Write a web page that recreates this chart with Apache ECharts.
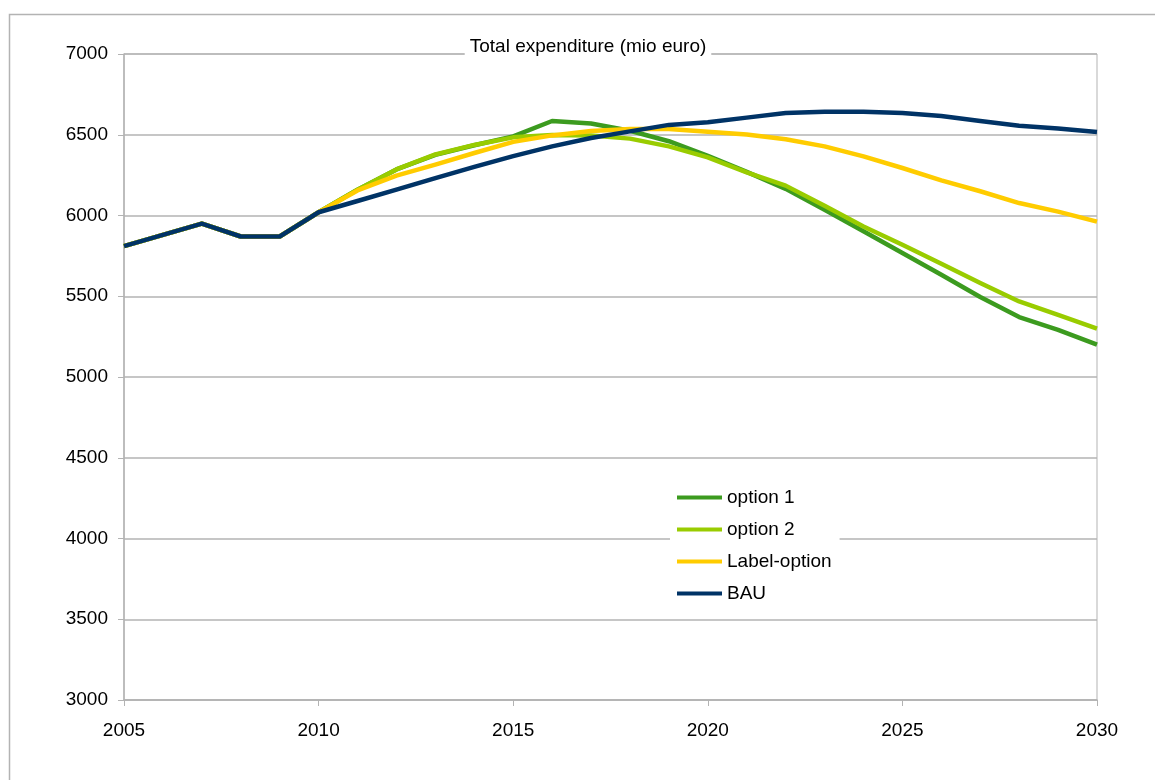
<!DOCTYPE html>
<html>
<head>
<meta charset="utf-8">
<script src="https://cdn.jsdelivr.net/npm/echarts@6/dist/echarts.min.js"></script>
<style>
html,body{margin:0;padding:0;background:#fff;}
#chart{width:1155px;height:780px;}
</style>
</head>
<body>
<div id="chart"></div>
<script>
var years = [2005,2006,2007,2008,2009,2010,2011,2012,2013,2014,2015,2016,2017,2018,2019,2020,2021,2022,2023,2024,2025,2026,2027,2028,2029,2030];
var option1 = [5810,5880,5950,5870,5870,6020,6160,6285,6375,6435,6490,6585,6570,6525,6460,6370,6270,6165,6036,5902,5768,5633,5495,5371,5292,5200];
var option2 = [5810,5880,5950,5870,5870,6020,6160,6285,6378,6437,6484,6499,6496,6476,6428,6360,6267,6185,6060,5932,5819,5701,5582,5468,5385,5299];
var labelOption = [5810,5880,5950,5870,5870,6020,6155,6247,6315,6387,6456,6496,6523,6536,6536,6519,6501,6472,6428,6366,6294,6218,6150,6077,6024,5962];
var bau = [5810,5880,5950,5870,5870,6020,6090,6160,6232,6301,6368,6428,6480,6521,6561,6577,6606,6635,6643,6642,6635,6616,6585,6556,6538,6517];
var seriesNames = ['option 1','option 2','Label-option','BAU'];
var seriesColors = ['#3c9b1f','#99cc00','#ffcc00','#003366'];
var yTicks = {min:3000, max:7000, interval:500};
var xTicks = {min:2005, max:2030, interval:5};
var titleText = 'Total expenditure (mio euro)';

function pairs(vals){ return years.map(function(y,i){ return [y, vals[i]]; }); }
var allData = [option1, option2, labelOption, bau];
var FONT = 'Liberation Sans, Arial, sans-serif';

var chart = echarts.init(document.getElementById('chart'));
chart.setOption({
  animation:false,
  backgroundColor:'#ffffff',
  graphic:[
    {type:'rect', z:-10, shape:{x:9.5,y:14.5,width:1300,height:900}, style:{fill:'none',stroke:'#b3b3b3',lineWidth:1.5}},
    {type:'text', z:10, x:588, y:47, style:{text:titleText, fill:'#000', font:'19px '+FONT, align:'center', verticalAlign:'middle', backgroundColor:'#fff', padding:[4,5,4,5]}}
  ],
  grid:{left:124,right:58,top:54,bottom:80,show:true,borderColor:'#b3b3b3',borderWidth:1},
  legend:{
    orient:'vertical', left:670, top:480,
    data:seriesNames,
    icon:'rect', itemWidth:45, itemHeight:4, itemGap:13,
    backgroundColor:'#fff', padding:[8,8,8,7],
    textStyle:{fontSize:19, color:'#000', fontFamily:FONT}
  },
  xAxis:{
    type:'value', min:xTicks.min, max:xTicks.max, interval:xTicks.interval,
    axisLine:{lineStyle:{color:'#b3b3b3',width:1.5}},
    axisTick:{show:true,length:6,lineStyle:{color:'#b3b3b3'}},
    axisLabel:{margin:21,fontSize:19,color:'#000',fontFamily:FONT,formatter:function(v){return String(v);}},
    splitLine:{show:false}
  },
  yAxis:{
    type:'value', min:yTicks.min, max:yTicks.max, interval:yTicks.interval,
    axisLine:{show:true,lineStyle:{color:'#b3b3b3',width:1.5}},
    axisTick:{show:true,length:6,lineStyle:{color:'#b3b3b3'}},
    axisLabel:{margin:16,fontSize:19,color:'#000',fontFamily:FONT,formatter:function(v){return String(v);}},
    splitLine:{show:true,lineStyle:{color:'#b3b3b3',width:1.5}}
  },
  series: seriesNames.map(function(n,i){
    return {
      name:n, type:'line', data:pairs(allData[i]),
      showSymbol:false, symbol:'none',
      color:seriesColors[i],
      lineStyle:{width:4.5,color:seriesColors[i],join:'round'},
      z:2+i
    };
  })
});
</script>
</body>
</html>
